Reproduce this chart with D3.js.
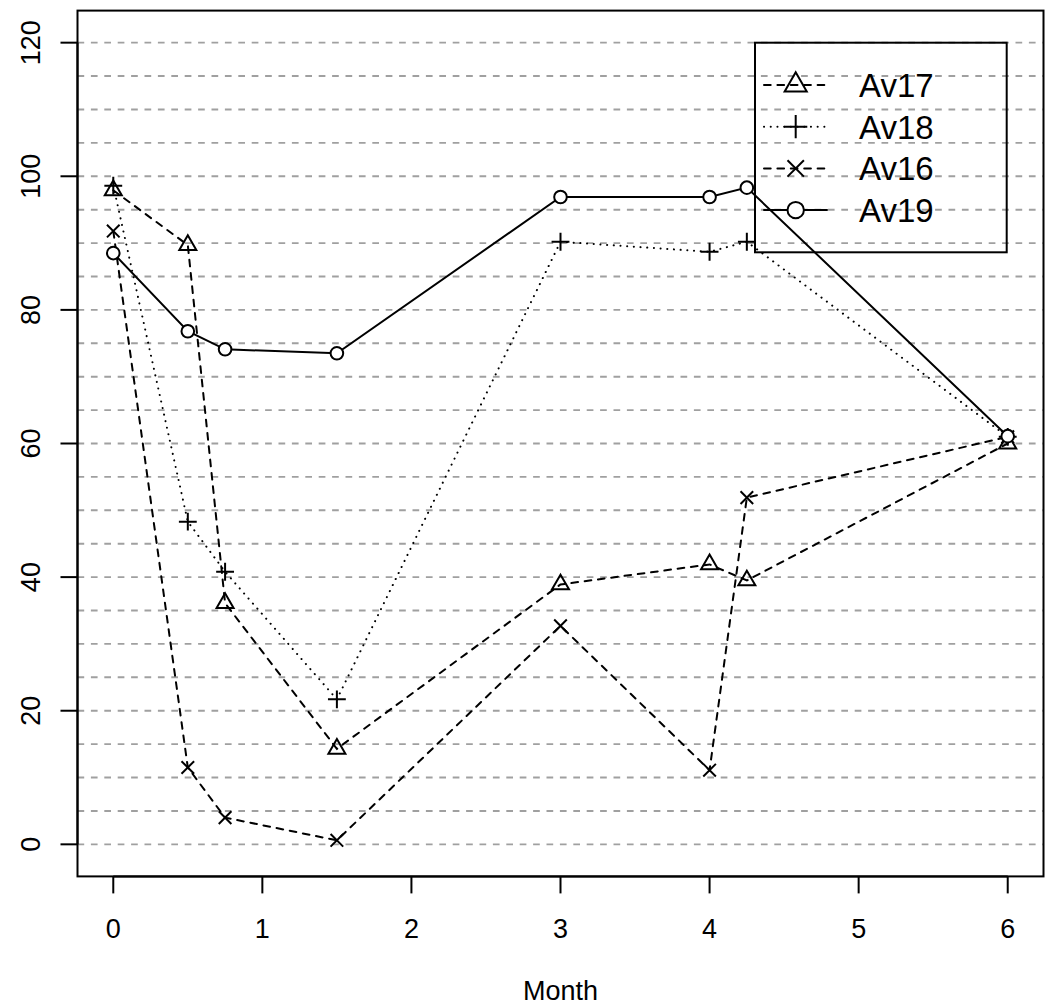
<!DOCTYPE html>
<html>
<head>
	<meta charset="utf-8">
	<style>
		body {
			margin: 0;
			background-color: white;
		}
		svg {
			display: block;
			font-family: "Liberation Sans", Helvetica, Arial, sans-serif;
		}
		.grid line {
			stroke: #a0a0a0;
			stroke-width: 1.9px;
			stroke-dasharray: 6.7 6.7;
		}
		.frame {
			fill: none;
			stroke: #000;
			stroke-width: 2px;
		}
		.axis line {
			stroke: #000;
			stroke-width: 2px;
		}
		.series path.line {
			fill: none;
			stroke: #000;
			stroke-width: 2px;
		}
		.sym {
			fill: none;
			stroke: #000;
			stroke-width: 2px;
		}
		.sym.circle {
			fill: #fff;
		}
	</style>
</head>
<body>
<script src="https://d3js.org/d3.v7.min.js"></script>

<script>
	// readings per month
	var months = [0, 0.5, 0.75, 1.5, 3, 4, 4.25, 6];
	var av17 = [97.9, 89.7, 36.1, 14.3, 38.9, 41.9, 39.5, 60.0];
	var av18 = [98.6, 48.3, 40.8, 21.7, 90.2, 88.7, 90.2, 61.0];
	var av16 = [91.8, 11.5, 4.0, 0.6, 32.7, 11.1, 51.9, 61.0];
	var av19 = [88.5, 76.8, 74.1, 73.5, 96.9, 96.9, 98.3, 61.1];

	var seriesNames = ["Av17", "Av18", "Av16", "Av19"];
	var seriesValues = [av17, av18, av16, av19];
	var symbols = ["triangle", "plus", "cross", "circle"];
	var dashes = ["6.7 6.7", "0.1 6.6", "6.7 6.7", null];

	var xTicks = [0, 1, 2, 3, 4, 5, 6];
	var yTicks = [0, 20, 40, 60, 80, 100, 120];
	var gridValues = d3.range(0, 121, 5);

	var width = 1052, height = 1007;
	var plot = {left: 77.5, right: 1043.5, top: 10.6, bottom: 876.4};
	var tickFont = 27, legendFont = 33;

	var xScale = d3.scaleLinear()
		.domain([-0.24, 6.24])
		.range([plot.left, plot.right]);
	var yScale = d3.scaleLinear()
		.domain([-4.8, 124.8])
		.range([plot.bottom, plot.top]);

	var svg = d3.select("body").append("svg")
		.attr("width", width)
		.attr("height", height);

	// horizontal dashed grid
	svg.append("g")
		.attr("class", "grid")
		.selectAll("line")
		.data(gridValues)
		.enter().append("line")
			.attr("x1", plot.left)
			.attr("x2", plot.right)
			.attr("y1", function(d) { return yScale(d); })
			.attr("y2", function(d) { return yScale(d); });

	// draws one R-style plotting symbol, u = base radius
	function drawSymbol(g, type, cx, cy, s) {
		var u = 6.31 * s;
		if (type == "triangle") {
			var r = 1.5551 * u, xc = 1.3468 * u, yc = 0.7776 * u;
			g.append("path").attr("class", "sym")
				.attr("d", "M" + cx + "," + (cy - r) + "L" + (cx + xc) + "," + (cy + yc) + "L" + (cx - xc) + "," + (cy + yc) + "Z");
		} else if (type == "plus") {
			var h = 1.4142 * u;
			g.append("path").attr("class", "sym")
				.attr("d", "M" + (cx - h) + "," + cy + "H" + (cx + h) + "M" + cx + "," + (cy - h) + "V" + (cy + h));
		} else if (type == "cross") {
			g.append("path").attr("class", "sym")
				.attr("d", "M" + (cx - u) + "," + (cy - u) + "L" + (cx + u) + "," + (cy + u) + "M" + (cx - u) + "," + (cy + u) + "L" + (cx + u) + "," + (cy - u));
		} else {
			g.append("circle").attr("class", "sym circle")
				.attr("cx", cx).attr("cy", cy).attr("r", u);
		}
	}

	var line = d3.line()
		.x(function(d) { return xScale(d[0]); })
		.y(function(d) { return yScale(d[1]); });

	seriesValues.forEach(function(vals, i) {
		var pts = months.map(function(m, j) { return [m, vals[j]]; });
		var g = svg.append("g").attr("class", "series");
		g.append("path")
			.attr("class", "line")
			.attr("d", line(pts))
			.attr("stroke-dasharray", dashes[i])
			.attr("stroke-linecap", "round");
		pts.forEach(function(p) {
			drawSymbol(g, symbols[i], xScale(p[0]), yScale(p[1]), 1);
		});
	});

	// frame
	svg.append("rect")
		.attr("class", "frame")
		.attr("x", plot.left)
		.attr("y", plot.top)
		.attr("width", plot.right - plot.left)
		.attr("height", plot.bottom - plot.top);

	// x axis
	var xAxis = svg.append("g").attr("class", "axis");
	xAxis.append("line")
		.attr("x1", xScale(xTicks[0])).attr("x2", xScale(xTicks[xTicks.length - 1]))
		.attr("y1", plot.bottom).attr("y2", plot.bottom);
	xAxis.selectAll(".tick")
		.data(xTicks)
		.enter().append("line")
			.attr("x1", function(d) { return xScale(d); })
			.attr("x2", function(d) { return xScale(d); })
			.attr("y1", plot.bottom)
			.attr("y2", plot.bottom + 17);
	xAxis.selectAll("text")
		.data(xTicks)
		.enter().append("text")
			.attr("x", function(d) { return xScale(d); })
			.attr("y", 938)
			.attr("font-size", tickFont)
			.attr("text-anchor", "middle")
			.text(function(d) { return d; });

	// y axis
	var yAxis = svg.append("g").attr("class", "axis");
	yAxis.append("line")
		.attr("x1", plot.left).attr("x2", plot.left)
		.attr("y1", yScale(yTicks[0])).attr("y2", yScale(yTicks[yTicks.length - 1]));
	yAxis.selectAll(".tick")
		.data(yTicks)
		.enter().append("line")
			.attr("x1", plot.left - 17)
			.attr("x2", plot.left)
			.attr("y1", function(d) { return yScale(d); })
			.attr("y2", function(d) { return yScale(d); });
	yAxis.selectAll("text")
		.data(yTicks)
		.enter().append("text")
			.attr("transform", function(d) { return "translate(40," + yScale(d) + ") rotate(-90)"; })
			.attr("font-size", tickFont)
			.attr("text-anchor", "middle")
			.text(function(d) { return d; });

	svg.append("text")
		.attr("x", (plot.left + plot.right) / 2)
		.attr("y", 1000)
		.attr("font-size", 27)
		.attr("text-anchor", "middle")
		.text("Month");

	// legend
	var legend = svg.append("g").attr("class", "legend");
	legend.append("rect")
		.attr("class", "frame")
		.attr("x", 755).attr("y", 42.7)
		.attr("width", 251.7).attr("height", 209.6);
	seriesNames.forEach(function(name, i) {
		var ly = 85 + i * 41.7;
		var row = legend.append("g").attr("class", "series");
		row.append("path")
			.attr("class", "line")
			.attr("d", "M764," + ly + "H827")
			.attr("stroke-dasharray", dashes[i])
			.attr("stroke-linecap", "round");
		drawSymbol(row, symbols[i], 795.7, ly, 1.3);
		row.append("text")
			.attr("x", 859)
			.attr("y", ly + 12)
			.attr("font-size", legendFont)
			.text(name);
	});
</script>
</body>
</html>
